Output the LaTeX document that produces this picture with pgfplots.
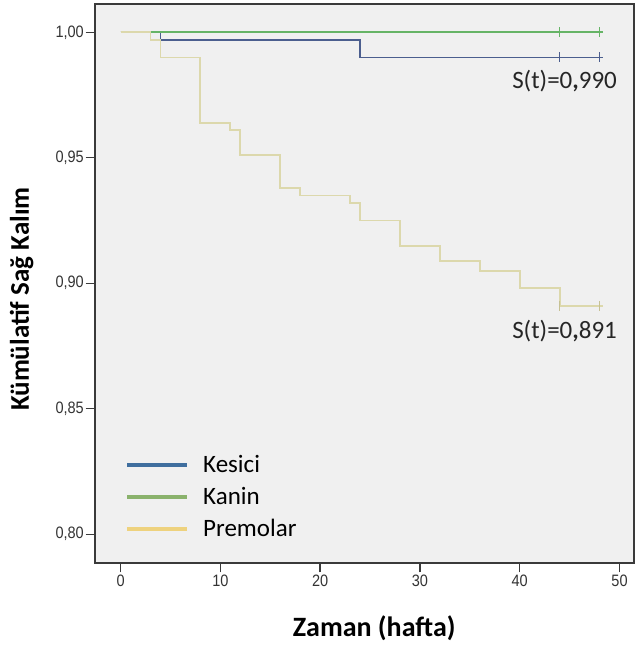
\documentclass[border=0pt]{standalone}
\usepackage{fontspec}
\setmainfont{Carlito}
\newfontfamily\tickfont[FakeStretch=0.88]{Liberation Sans}
\usepackage{pgfplots}
\pgfplotsset{compat=1.18}
\definecolor{panelbg}{HTML}{F0F0F0}
\definecolor{frame}{HTML}{3A3A3A}
\definecolor{ticktext}{HTML}{333333}
\definecolor{kesline}{HTML}{4B5E8E}
\definecolor{kanline}{HTML}{66B466}
\definecolor{premline}{HTML}{DCD8AC}
\definecolor{premmark}{HTML}{C6C194}
\definecolor{kesleg}{HTML}{3F6E9E}
\definecolor{kanleg}{HTML}{8AB26C}
\definecolor{premleg}{HTML}{EED27E}

\begin{document}
\begin{tikzpicture}
\begin{axis}[
  at={(95pt,87.2pt)}, anchor=south west,
  scale only axis, width=539pt, height=558.5pt,
  xmin=-2.56, xmax=51.45, ymin=0.7886, ymax=1.0112,
  xtick={0,10,20,30,40,50},
  ytick={0.80,0.85,0.90,0.95,1.00},
  xtick pos=bottom, ytick pos=left,
  tick align=outside,
  major tick length=9.5pt,
  tick style={line width=1.3pt, color=frame},
  axis line style={line width=1.6pt, color=frame},
  axis background/.style={fill=panelbg},
  /pgf/number format/assume math mode=true,
  tick label style={font=\tickfont\fontsize{16.5}{16.5}\selectfont, text=ticktext},
  xticklabel style={inner sep=2pt},
  yticklabel style={inner sep=1.5pt, /pgf/number format/.cd, use comma, fixed, fixed zerofill, precision=2},
  xlabel={\bfseries Zaman (hafta)},
  ylabel={\bfseries Kümülatif Sağ Kalım},
  label style={font=\fontsize{28}{28}\selectfont},
  xlabel style={at={(axis description cs:0.518,-0.1323)}, anchor=base},
  ylabel style={at={(axis description cs:-0.1225,0.472)}, anchor=base, font=\fontsize{27}{27}\selectfont},
  legend cell align=left,
  legend style={at={(axis description cs:0.0557,0.1936)}, anchor=north west,
    draw=none, fill=none, inner sep=0pt, row sep=8pt, column sep=14pt,
    font=\fontsize{25}{25}\selectfont,
    nodes={inner sep=0pt, text height=18pt, text depth=6pt}},
  legend image code/.code={\draw[#1] (0pt,2pt) -- (60pt,2pt);},
]
% legend entries (colours as in the key)
\addlegendimage{kesleg, line width=4pt}
\addlegendentry{Kesici}
\addlegendimage{kanleg, line width=4pt}
\addlegendentry{Kanin}
\addlegendimage{premleg, line width=4pt}
\addlegendentry{Premolar}

% Kesici
\addplot[kesline, line width=1.8pt, const plot, forget plot]
  coordinates {(0,1.000)(4,0.997)(24,0.990)(48.3,0.990)};
\addplot[kesline, only marks, mark=|, mark size=5pt, mark options={line width=1.6pt}, forget plot]
  coordinates {(44,0.990)(48,0.990)};
% Kanin
\addplot[kanline, line width=1.8pt, const plot, forget plot]
  coordinates {(0,1.000)(48.3,1.000)};
\addplot[kanline, only marks, mark=|, mark size=5pt, mark options={line width=1.6pt}, forget plot]
  coordinates {(44,1.000)(48,1.000)};
% Premolar
\addplot[premline, line width=1.8pt, const plot, forget plot]
  coordinates {(0,1.000)(3,0.997)(4,0.990)(8,0.964)(11,0.961)(12,0.951)
    (16,0.938)(18,0.935)(23,0.932)(24,0.925)(28,0.915)(32,0.909)
    (36,0.905)(40,0.898)(44,0.891)(48.3,0.891)};
\addplot[premmark, only marks, mark=|, mark size=5pt, mark options={line width=1.6pt}, forget plot]
  coordinates {(44,0.891)(48,0.891)};

\node[anchor=base west, inner sep=0pt, font=\fontsize{25}{25}\selectfont, text=black!85]
  at (axis cs:39.23,0.9777) {S(t)=0\textbf{,}990};
\node[anchor=base west, inner sep=0pt, font=\fontsize{25}{25}\selectfont, text=black!85]
  at (axis cs:39.23,0.8778) {S(t)=0\textbf{,}891};
\end{axis}
\pgfresetboundingbox
\path[use as bounding box] (0pt,0pt) rectangle (637pt,650pt);
\end{tikzpicture}
\end{document}
